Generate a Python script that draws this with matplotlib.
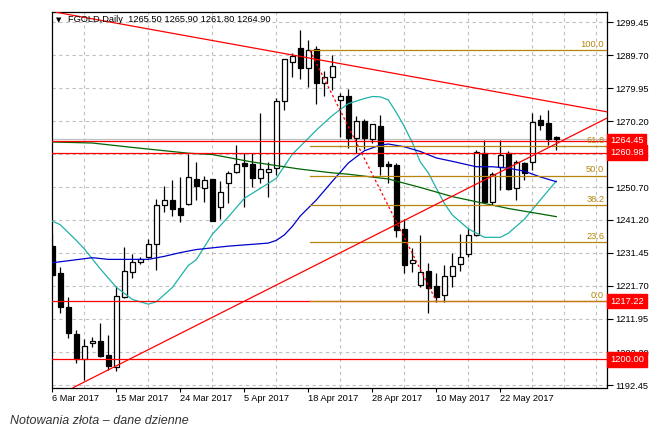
import matplotlib
matplotlib.use("Agg")
import matplotlib.pyplot as plt
import numpy as np

# OHLC, one bar per trading day (bar 0 = 6 Mar 2017)
opens = [1233.4, 1225.4, 1215.4, 1207.5, 1200.1, 1204.8, 1205.4, 1201.3, 1197.9, 1218.5,
         1225.9, 1228.7, 1230.1, 1234.0, 1245.4, 1246.9, 1244.6, 1245.7, 1253.1, 1250.5,
         1253.1, 1244.9, 1251.9, 1255.4, 1257.8, 1257.6, 1253.4, 1255.4, 1256.4, 1276.3,
         1287.8, 1291.7, 1286.0, 1291.4, 1281.4, 1283.2, 1276.4, 1277.6, 1265.2, 1270.3,
         1264.9, 1268.8, 1257.6, 1257.4, 1238.4, 1228.3, 1222.0, 1226.0, 1221.7, 1219.0,
         1224.6, 1228.1, 1231.0, 1236.7, 1260.8, 1246.3, 1256.8, 1260.9, 1250.6, 1258.0,
         1258.3, 1270.6, 1269.8, 1265.5]
highs = [1237.0, 1227.2, 1218.5, 1208.7, 1205.9, 1206.5, 1210.7, 1207.2, 1221.7, 1233.2,
         1231.1, 1230.2, 1235.4, 1247.3, 1251.1, 1252.9, 1253.8, 1260.7, 1258.2, 1254.1,
         1253.3, 1252.5, 1255.6, 1263.2, 1260.8, 1260.8, 1272.5, 1258.3, 1277.0, 1288.6,
         1290.2, 1297.1, 1294.1, 1292.4, 1285.1, 1289.7, 1278.4, 1279.7, 1271.7, 1270.9,
         1269.4, 1272.1, 1258.6, 1257.8, 1241.3, 1232.8, 1236.7, 1228.4, 1225.4, 1227.8,
         1231.3, 1236.9, 1238.7, 1261.7, 1264.7, 1255.3, 1264.7, 1261.5, 1258.8, 1258.2,
         1272.5, 1272.1, 1273.5, 1265.9]
lows = [1224.6, 1213.6, 1206.2, 1198.9, 1194.0, 1203.8, 1200.8, 1196.9, 1196.7, 1218.2,
        1224.0, 1228.1, 1229.9, 1226.4, 1243.5, 1242.4, 1240.4, 1245.5, 1246.9, 1246.5,
        1240.7, 1241.3, 1246.0, 1254.9, 1245.0, 1250.9, 1251.9, 1247.9, 1254.4, 1273.5,
        1283.3, 1282.7, 1280.4, 1275.3, 1277.7, 1279.4, 1265.7, 1262.4, 1260.8, 1262.1,
        1263.7, 1254.4, 1252.1, 1236.2, 1225.6, 1225.9, 1221.5, 1213.8, 1217.0, 1216.9,
        1221.5, 1226.2, 1230.3, 1236.4, 1246.0, 1245.5, 1249.9, 1249.9, 1247.0, 1252.9,
        1255.8, 1267.6, 1263.2, 1261.8]
closes = [1224.9, 1215.4, 1207.7, 1200.1, 1203.9, 1205.4, 1201.1, 1198.2, 1218.8, 1226.0,
          1228.6, 1229.7, 1234.0, 1245.4, 1246.9, 1244.4, 1242.7, 1253.8, 1251.2, 1252.8,
          1240.9, 1249.4, 1254.9, 1257.6, 1257.1, 1253.4, 1256.1, 1256.1, 1276.1, 1288.5,
          1289.4, 1286.0, 1291.2, 1281.4, 1283.2, 1286.5, 1277.6, 1265.2, 1270.2, 1265.2,
          1269.3, 1257.1, 1257.1, 1238.3, 1227.9, 1229.2, 1225.9, 1221.0, 1218.5, 1224.6,
          1227.6, 1230.3, 1236.7, 1261.1, 1246.5, 1254.7, 1260.3, 1250.3, 1258.2, 1254.9,
          1270.1, 1269.1, 1264.9, 1264.9]

# moving averages at bar indices
ma_fast_idx = [0, 1, 3, 4, 6, 8, 10, 12, 13, 15, 17, 18, 20, 22, 24, 27, 28, 30, 32, 33,
               35, 37, 39, 40, 41, 42, 43, 44, 45, 46, 47, 49, 50, 52, 54, 56, 57, 59, 61, 63]
ma_fast = [1240.8, 1239.7, 1235.1, 1232.6, 1226.7, 1221.3, 1217.7, 1216.3, 1217.0, 1221.2,
           1227.7, 1229.4, 1236.9, 1242.0, 1247.5, 1251.9, 1253.4, 1260.5, 1265.2, 1267.6,
           1271.9, 1275.4, 1276.9, 1277.5, 1277.4, 1276.5, 1272.8, 1268.7, 1263.9, 1258.2,
           1255.0, 1246.0, 1242.6, 1238.5, 1236.0, 1236.0, 1237.2, 1241.3, 1247.0, 1252.6]
ma_mid_idx = [0, 2, 5, 7, 10, 12, 14, 16, 18, 22, 27, 28, 29, 30, 31, 33, 35, 37, 39, 41,
              42, 44, 46, 48, 50, 53, 55, 57, 59, 61, 63]
ma_mid = [1228.5, 1229.1, 1230.0, 1229.5, 1229.5, 1229.5, 1230.4, 1231.5, 1232.4, 1233.4,
          1234.3, 1235.1, 1236.7, 1239.2, 1242.3, 1247.0, 1252.5, 1257.9, 1261.5, 1263.2,
          1263.5, 1262.7, 1261.3, 1259.4, 1258.4, 1256.8, 1256.8, 1256.4, 1255.5, 1253.8, 1252.4]
ma_slow_idx = [0, 5, 10, 17, 20, 25, 29, 31, 35, 37, 42, 46, 50, 53, 57, 63]
ma_slow = [1264.1, 1263.8, 1262.5, 1260.8, 1260.4, 1258.2, 1256.8, 1256.1, 1255.0, 1254.6,
           1253.2, 1250.7, 1248.0, 1246.5, 1244.5, 1242.1]

# drawn objects
trend_down = ([0.55, 69.3], [1302.3, 1273.0])
trend_up = ([2.6, 69.3], [1191.7, 1271.1])
fib_start, fib_end = 32.2, 48.0
fib_high, fib_low = 1291.1, 1217.22
fib_levels = [100.0, 61.8, 50.0, 38.2, 23.6, 0.0]
hlines = [1264.45, 1260.98, 1217.22, 1200.00]
last_price = 1264.90

yticks = [1299.45, 1289.70, 1279.95, 1270.20, 1260.45, 1250.70, 1241.20,
          1231.45, 1221.70, 1211.95, 1202.20, 1192.45]
xtick_pos = [0, 8, 16, 24, 32, 40, 48, 56]
xtick_lab = ["6 Mar 2017", "15 Mar 2017", "24 Mar 2017", "5 Apr 2017",
             "18 Apr 2017", "28 Apr 2017", "10 May 2017", "22 May 2017"]

FS = 6.7
GOLD = "#B8860B"

fig = plt.figure(figsize=(6.6, 4.41), dpi=100)
ax = fig.add_axes([51.7 / 660, 1 - 387.5 / 441, 555 / 660, 375.8 / 441])
ax.set_xlim(-0.075, 69.3)
ax.set_ylim(1191.74, 1302.5)

# candles
x = np.arange(len(opens))
o = np.array(opens)
c = np.array(closes)
ax.vlines(x, lows, highs, color="black", lw=0.9, zorder=2)
up = c >= o
ax.bar(x, np.maximum(np.abs(c - o), 0.25), bottom=np.minimum(o, c), width=0.62,
       color=np.where(up, "white", "black"), edgecolor="black", lw=0.9, zorder=2.2)

# moving averages
ax.plot(ma_fast_idx, ma_fast, color="#20B2AA", lw=0.9, zorder=3)
ax.plot(ma_mid_idx, ma_mid, color="#0000CD", lw=0.9, zorder=3)
ax.plot(ma_slow_idx, ma_slow, color="#006400", lw=0.9, zorder=3)

# horizontal lines
ax.axhline(last_price, color="#C0C0C0", lw=0.9, zorder=1.8)
for h in hlines:
    ax.axhline(h, color="red", lw=0.9, zorder=3)

# trend lines
ax.plot(*trend_down, color="red", lw=0.9, zorder=3.2)
ax.plot(*trend_up, color="red", lw=0.9, zorder=3.2)

# fibonacci
ax.plot([fib_start, fib_end], [fib_high, fib_low], color="red", lw=0.9,
        linestyle=(0, (2, 2)), zorder=3.2)
for lv in fib_levels:
    p = fib_low + (fib_high - fib_low) * lv / 100
    ax.plot([fib_start, 69.3], [p, p], color=GOLD, lw=0.9, zorder=3.1)
    ax.annotate("%.1f" % lv, xy=(0.9955, p), xycoords=("axes fraction", "data"),
                xytext=(0, 1), textcoords="offset points", ha="right", va="bottom",
                fontsize=FS, color=GOLD, family="Liberation Sans", zorder=4)

# axes styling
ax.yaxis.tick_right()
ax.set_yticks(yticks)
ax.set_yticklabels(["%.2f" % v for v in yticks])
ax.set_xticks(xtick_pos)
ax.set_xticklabels(xtick_lab, ha="left")
ax.set_xticks(range(0, 69, 4), minor=True)
ax.tick_params(axis="y", direction="out", length=4, width=0.8, pad=2,
               labelsize=FS, labelfontfamily="Liberation Sans")
ax.tick_params(axis="x", direction="out", length=3, width=0.8, pad=2,
               labelsize=FS, labelfontfamily="Liberation Sans")
ax.tick_params(axis="x", which="minor", length=0)
ax.grid(True, axis="y", which="major", color="#C0C0C0", lw=0.8, linestyle=(0, (3, 3)))
ax.grid(True, axis="x", which="minor", color="#C0C0C0", lw=0.8, linestyle=(0, (3, 3)))
for s in ax.spines.values():
    s.set_linewidth(0.9)

# price tags on the right axis
for h in hlines:
    ax.annotate("%.2f" % h, xy=(1, h), xycoords=("axes fraction", "data"),
                xytext=(2.5, 0), textcoords="offset points", ha="left", va="center",
                fontsize=FS, color="white", family="Liberation Sans", zorder=10,
                annotation_clip=False,
                bbox=dict(boxstyle="square,pad=0.3", fc="red", ec="red"))

# header
ax.text(0.008, 0.978, "\u25bc", transform=ax.transAxes, fontsize=5, va="center",
        ha="left", color="black")
ax.text(0.029, 0.978, "FGOLD,Daily  1265.50 1265.90 1261.80 1264.90",
        transform=ax.transAxes, fontsize=FS, va="center", ha="left",
        family="Liberation Sans", color="black", zorder=5)

fig.text(10 / 660, 1 - 421 / 441, "Notowania złota \u2013 dane dzienne", fontsize=9,
         style="italic", family="Liberation Sans", color="#333333", va="center")

fig.savefig("out.png", dpi=100)
plt.close(fig)
